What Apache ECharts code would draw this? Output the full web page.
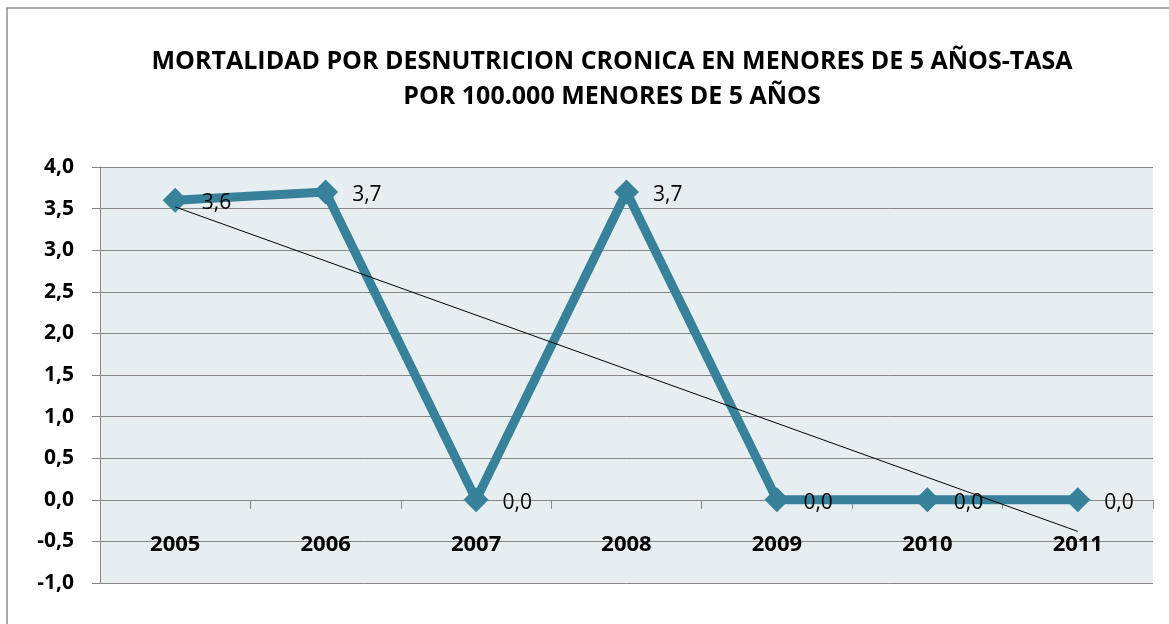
<!DOCTYPE html>
<html>
<head>
<meta charset="utf-8">
<script src="https://cdn.jsdelivr.net/npm/echarts@6/dist/echarts.min.js"></script>
<style>
    html, body { margin: 0; padding: 0; background: #fff; }
    #main { width: 1169px; height: 624px; }
</style>
</head>
<body>
<div id="main"></div>
<script type="text/javascript">
    // datos
    var years = ['2005', '2006', '2007', '2008', '2009', '2010', '2011'];
    var tasa = [3.6, 3.7, 0.0, 3.7, 0.0, 0.0, 0.0];
    // linea de tendencia (extremos)
    var tendencia = [[0, 3.52], [6, -0.38]];
    var yTicks = [-1, -0.5, 0, 0.5, 1, 1.5, 2, 2.5, 3, 3.5, 4];

    function coma(v) {
        return Number(v).toFixed(1).replace('.', ',');
    }

    var myChart = echarts.init(document.getElementById('main'));
    var option = {
        backgroundColor: '#fff',
        animation: false,
        textStyle: { fontFamily: 'Open Sans' },
        title: {
            text: 'MORTALIDAD POR DESNUTRICION CRONICA EN MENORES DE 5 AÑOS-TASA\nPOR 100.000 MENORES DE 5 AÑOS',
            left: 607,
            top: 39,
            textAlign: 'center',
            textStyle: {
                fontFamily: 'Open Sans',
                fontSize: 25,
                fontWeight: 'bold',
                color: '#000',
                lineHeight: 35
            }
        },
        graphic: [{
            type: 'rect',
            shape: { x: 7, y: 8, width: 1200, height: 700 },
            style: { fill: 'none', stroke: '#8a8a8a', lineWidth: 1.5 },
            silent: true
        }],
        grid: {
            left: 100,
            right: 16,
            top: 167,
            bottom: 41,
            outerBoundsMode: 'none',
            containLabel: false,
            show: true,
            backgroundColor: '#e7eef2',
            borderWidth: 0
        },
        xAxis: {
            type: 'category',
            data: years,
            boundaryGap: true,
            axisLine: { onZero: true, lineStyle: { color: '#868686', width: 1 } },
            axisTick: { show: true, length: 9, lineStyle: { color: '#868686' } },
            axisLabel: {
                margin: -49,
                fontSize: 22,
                fontWeight: 'bold',
                color: '#000'
            },
            splitLine: { show: false }
        },
        yAxis: {
            type: 'value',
            min: -1,
            max: 4,
            interval: 0.5,
            axisLine: { show: true, lineStyle: { color: '#868686' } },
            axisTick: { show: true, length: 8, lineStyle: { color: '#868686' } },
            axisLabel: {
                margin: 26,
                fontSize: 21,
                fontWeight: 'bold',
                color: '#000',
                formatter: function (v) { return yTicks.indexOf(v) >= 0 ? coma(v) : ''; }
            },
            splitLine: { show: true, lineStyle: { color: '#868686', width: 1 } }
        },
        series: [
            {
                name: 'Tasa',
                type: 'line',
                data: tasa,
                symbol: 'diamond',
                symbolSize: 25,
                itemStyle: { color: '#37819a' },
                lineStyle: { color: '#37819a', width: 9 },
                z: 3,
                label: {
                    show: true,
                    position: 'right',
                    distance: 14,
                    offset: [0, 3],
                    fontSize: 21,
                    color: '#000',
                    formatter: function (p) { return coma(p.value); }
                }
            },
            {
                name: 'Tendencia',
                type: 'line',
                data: tendencia,
                symbol: 'none',
                lineStyle: { color: '#000', width: 1 },
                z: 4,
                silent: true
            }
        ]
    };

    myChart.setOption(option);
</script>
</body>
</html>
